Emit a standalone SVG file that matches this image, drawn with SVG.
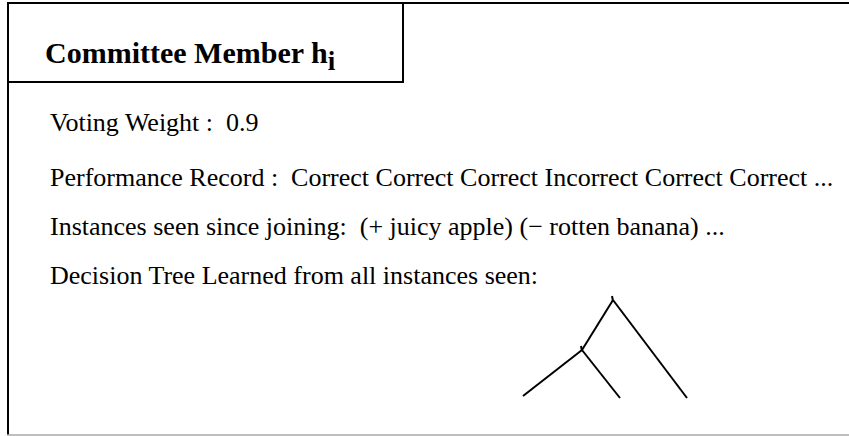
<svg xmlns="http://www.w3.org/2000/svg" width="849" height="436" viewBox="0 0 849 436">
<style>
.t{font-family:"Liberation Serif","Times New Roman",serif;font-size:26px;fill:#000}
.b{font-family:"Liberation Serif","Times New Roman",serif;font-size:30px;font-weight:bold;fill:#000}
.ln{stroke:#000;stroke-width:2;fill:none}
</style>
<rect x="0" y="0" width="849" height="436" fill="#fff"/>
<g id="frame">
<line x1="8" y1="3" x2="849" y2="3" stroke="#000" stroke-width="2"/>
<line x1="8" y1="3" x2="8" y2="435" stroke="#000" stroke-width="2"/>
<line x1="7" y1="435" x2="849" y2="435" stroke="#aaa" stroke-width="1.5"/>
</g>
<g id="title">
<rect x="8" y="3" width="395" height="79" fill="none" stroke="#000" stroke-width="2"/>
<text class="b" x="45" y="63">Committee Member h<tspan dy="7" font-size="27">i</tspan></text>
</g>
<g id="fields">
<text class="t" x="50" y="131" xml:space="preserve">Voting Weight :  0.9</text>
<text class="t" x="50" y="186" xml:space="preserve">Performance Record :  Correct Correct Correct Incorrect Correct Correct ...</text>
<text class="t" x="50" y="235" xml:space="preserve">Instances seen since joining:  (+ juicy apple) (− rotten banana) ...</text>
<text class="t" x="50" y="284">Decision Tree Learned from all instances seen:</text>
</g>
<g id="tree">
<line class="ln" x1="613" y1="300" x2="582" y2="350"/>
<line class="ln" x1="613" y1="300" x2="687" y2="398"/>
<line class="ln" x1="582" y1="350" x2="523" y2="396"/>
<line class="ln" x1="582" y1="350" x2="620" y2="398"/>
<line class="ln" x1="612" y1="296" x2="613" y2="301" stroke-width="1.5"/>
<line class="ln" x1="581" y1="346" x2="582" y2="351" stroke-width="1.5"/>
</g>
</svg>
